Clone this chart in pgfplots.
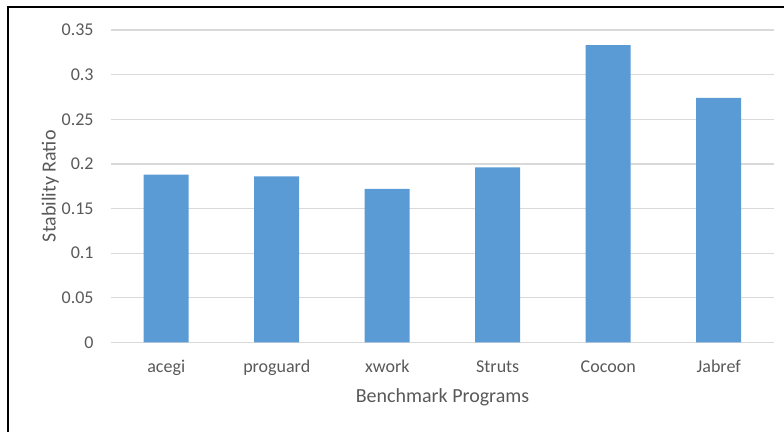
\documentclass[border=0pt]{standalone}
\usepackage{pgfplots}
\pgfplotsset{compat=1.18}
\usepackage{fontspec}
\setmainfont{Carlito}
\definecolor{barblue}{HTML}{5B9BD5}
\definecolor{gridgray}{HTML}{D9D9D9}
\definecolor{txtgray}{HTML}{595959}
\begin{document}
\begin{tikzpicture}
\path[use as bounding box] (0,0) rectangle (392pt,216pt);
\draw[line width=1pt, black] (4pt,0) -- (4pt,212.5pt) -- (392pt,212.5pt);
\begin{axis}[
  at={(55.5pt,44.75pt)}, anchor=south west,
  scale only axis, width=331.5pt, height=156.25pt,
  xmin=-0.5, xmax=5.5, ymin=0, ymax=0.35,
  axis line style={draw=none},
  xtick={0,1,2,3,4,5},
  xticklabels={acegi,proguard,xwork,Struts,Cocoon,Jabref},
  ytick={0,0.05,0.1,0.15,0.2,0.25,0.3,0.35},
  yticklabels={0,0.05,0.1,0.15,0.2,0.25,0.3,0.35},
  major tick length=0pt,
  ymajorgrids, grid style={gridgray, line width=0.6pt},
  tick label style={font=\fontsize{9}{10}\selectfont, text=txtgray},
  xticklabel style={anchor=base, inner sep=0pt, yshift=-15.25pt},
  yticklabel style={anchor=east, inner sep=0pt, xshift=-8.5pt},
  xlabel={Benchmark Programs},
  ylabel={Stability Ratio},
  label style={font=\fontsize{10}{12}\selectfont, text=txtgray},
  xlabel style={at={(axis description cs:0.5,-0.193)}, anchor=base, inner sep=0pt},
  ylabel style={at={(axis description cs:-0.0837,0.5)}, anchor=base, rotate=0, inner sep=0pt},
]
\addplot[ybar, bar width=22.5pt, fill=barblue, draw=none] coordinates {
  (0,0.188) (1,0.186) (2,0.172) (3,0.196) (4,0.333) (5,0.274)
};
\end{axis}
\end{tikzpicture}
\end{document}
